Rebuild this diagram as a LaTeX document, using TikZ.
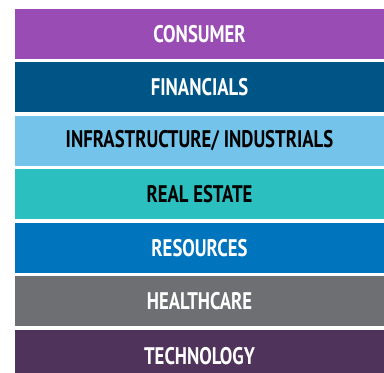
\documentclass[tikz,border=0pt]{standalone}
\usepackage{fontspec}
\setmainfont{PT Sans}
\newfontfamily\barfont[FakeStretch=0.78]{PT Sans Bold}
\definecolor{cConsumer}{HTML}{984CB4}
\definecolor{cFinancials}{HTML}{005587}
\definecolor{cInfra}{HTML}{74C3EA}
\definecolor{cRealEstate}{HTML}{2BBFBF}
\definecolor{cResources}{HTML}{0075BE}
\definecolor{cHealth}{HTML}{6E6F72}
\definecolor{cTech}{HTML}{4F335A}
\tikzset{
  barlabel/.style={font=\barfont\fontsize{24}{24}\selectfont},
  sectorbar/.style={rectangle, inner sep=0pt, minimum width=369pt,
    minimum height=50pt, barlabel},
}
\begin{document}
\begin{tikzpicture}[x=1pt,y=-1pt]
  \useasboundingbox (0,0) rectangle (384,373);
  \begin{scope}
    \clip (0,0) rectangle (384,373);
    \node[sectorbar, fill=cConsumer, text=white]   (consumer)   at (199.5,34)    {CONSUMER};
    \node[sectorbar, fill=cFinancials, text=white] (financials) at (199.5,87)    {FINANCIALS};
    \node[sectorbar, fill=cInfra, text=black]      (infra)      at (199.5,140.7) {INFRASTRUCTURE/ INDUSTRIALS};
    \node[sectorbar, fill=cRealEstate, text=black] (realestate) at (199.5,194)   {REAL ESTATE};
    \node[sectorbar, fill=cResources, text=white]  (resources)  at (199.5,248)   {RESOURCES};
    \node[sectorbar, fill=cHealth, text=white]     (health)     at (199.5,301)   {HEALTHCARE};
    \node[sectorbar, fill=cTech, minimum height=60pt, anchor=north]
      (tech) at (199.5,330) {};
    \node[barlabel, text=white, inner sep=0pt] (techlabel) at (199.5,356.5) {TECHNOLOGY};
  \end{scope}
\end{tikzpicture}
\end{document}
